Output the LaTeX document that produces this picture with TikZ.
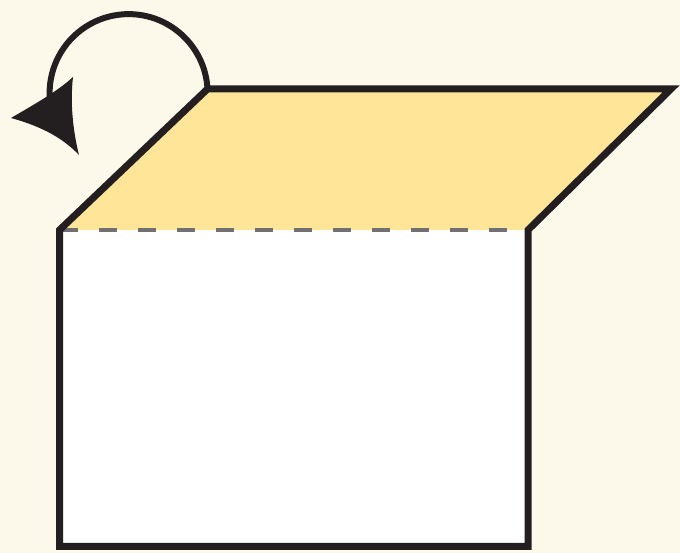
\documentclass[tikz,border=0pt]{standalone}
\usepackage{tikz}
\definecolor{paper}{HTML}{FDF9EA}
\definecolor{lidyellow}{HTML}{FFE597}
\definecolor{ink}{HTML}{231F20}
\definecolor{foldgray}{HTML}{707070}
\tikzset{outline/.style={draw=ink,line width=7pt,line join=miter},foldline/.style={draw=foldgray,line width=3.5pt,dash pattern=on 18pt off 21pt},turn/.style={draw=ink,line width=6pt}}

\begin{document}
\begin{tikzpicture}[x=1pt,y=1pt]
\useasboundingbox[fill=paper](0,0) rectangle (680,553);
% corners of the box and its lid
\coordinate (bl) at (59.5,6.5);
\coordinate (br) at (528,6.5);
\coordinate (tl) at (59.5,323);
\coordinate (tr) at (528,323);
\coordinate (lidl) at (207.5,464);
\coordinate (lidr) at (671,464);
\fill[lidyellow](tl)--(lidl)--(lidr)--(tr)--cycle;
\fill[white](bl) rectangle (tr);
\draw[foldline](tl)--(tr);
\draw[outline](tr)--(lidr)--(lidl)--(tl)--(bl)--(br)--cycle;
% turning arrow
\draw[turn](lidl) arc[start angle=3,end angle=193,radius=79];
\fill[ink](11,435) .. controls (35,449) and (58,462) .. (73,476) .. controls (70,450) and (73,422) .. (79,398) .. controls (60,418) and (36,428) .. cycle;
\end{tikzpicture}
\end{document}
